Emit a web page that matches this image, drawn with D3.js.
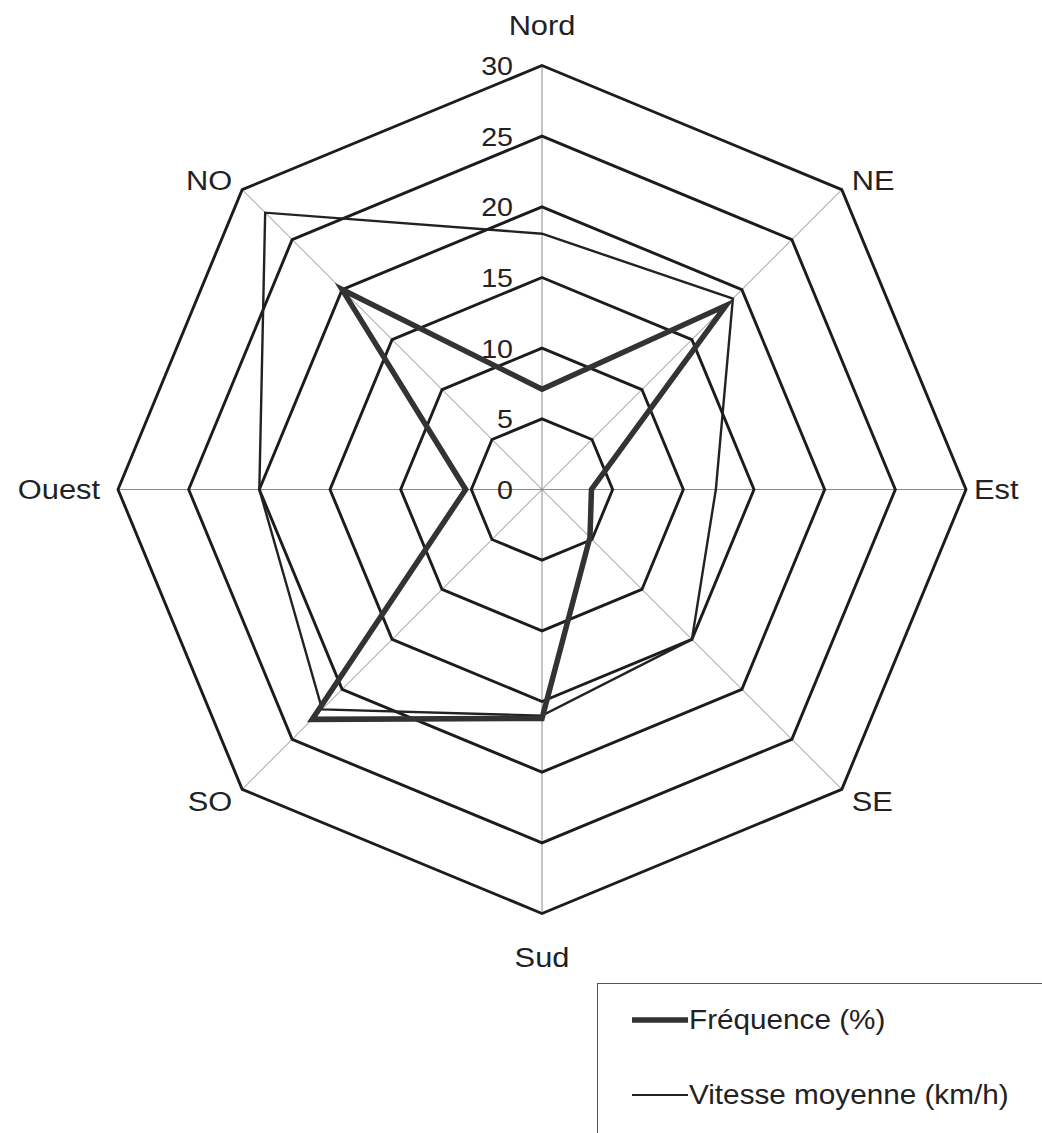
<!DOCTYPE html>
<html>
<head>
<meta charset="utf-8">
<script src="https://cdn.jsdelivr.net/npm/d3@7"></script>
<style>
  html, body { margin: 0; padding: 0; background: #fff; }
  svg { display: block; }
  text { font-family: "Liberation Sans", Arial, sans-serif; fill: #222; }
</style>
</head>
<body>
<div id="chart"></div>
<script>
// directions, clockwise from the top
const directions = ["Nord", "NE", "Est", "SE", "Sud", "SO", "Ouest", "NO"];
// series
const frequence = [7.1, 18.4, 3.5, 4.8, 16.2, 23.0, 5.4, 20.0];
const vitesse = [18.1, 19.1, 12.3, 15.0, 16.0, 22.0, 20.0, 27.7];
const ticks = [0, 5, 10, 15, 20, 25, 30];

const seriesNames = ["Fréquence (%)", "Vitesse moyenne (km/h)"];

const width = 1042;
const height = 1133;
const cx = 542, cy = 489.5;
const R = 424;
const stretch = 1.1; // the scanned text is a bit wider than Arial

const svg = d3.select("#chart").append("svg")
  .attr("width", width)
  .attr("height", height)
  .attr("viewBox", [0, 0, width, height]);

const r = d3.scaleLinear().domain([0, 30]).range([0, R]);
const angle = d3.scalePoint().domain(directions).range([0, 2 * Math.PI * 7 / 8]);

const g = svg.append("g").attr("transform", `translate(${cx},${cy})`);

// spokes
g.append("g")
  .attr("stroke", "#8a8a8a")
  .attr("stroke-width", 1)
  .selectAll("line")
  .data(directions)
  .join("line")
  .attr("x1", 0).attr("y1", 0)
  .attr("x2", d => r(30) * Math.sin(angle(d)))
  .attr("y2", d => -r(30) * Math.cos(angle(d)));

// octagon rings
const ring = d3.lineRadial()
  .angle(d => angle(d))
  .curve(d3.curveLinearClosed);

g.append("g")
  .attr("fill", "none")
  .attr("stroke", "#1c1c1c")
  .attr("stroke-width", 2.9)
  .attr("stroke-linejoin", "miter")
  .selectAll("path")
  .data(ticks.filter(t => t > 0))
  .join("path")
  .attr("d", t => ring.radius(() => r(t))(directions));

// tick labels along the north spoke
g.append("g")
  .attr("font-size", 26)
  .attr("text-anchor", "end")
  .selectAll("text")
  .data(ticks)
  .join("text")
  .attr("transform", t => `translate(-29,${-r(t)}) scale(${stretch},1)`)
  .attr("dy", "0.36em")
  .text(t => t);

// series
const seriesLine = d3.lineRadial()
  .angle((d, i) => angle(directions[i]))
  .radius(d => r(d))
  .curve(d3.curveLinearClosed);

g.append("path")
  .datum(vitesse)
  .attr("fill", "none")
  .attr("stroke", "#222")
  .attr("stroke-width", 2.4)
  .attr("stroke-linejoin", "miter")
  .attr("d", seriesLine);

g.append("path")
  .datum(frequence)
  .attr("fill", "none")
  .attr("stroke", "#333")
  .attr("stroke-width", 5.5)
  .attr("stroke-linejoin", "miter")
  .attr("d", seriesLine);

// direction labels
function labelPos(d) {
  const s = Math.sin(angle(d)), c = Math.cos(angle(d));
  let x = (R + 14) * s;
  if (s > 0.9) x = R + 8;
  else if (s < -0.9) x = -(R + 18);
  let y = -(R + 14) * c;
  if (c > 0.9) y -= 26;
  else if (c < -0.9) y += 30;
  else if (c < -0.1) y += 2;
  return [x, y];
}

g.append("g")
  .attr("font-size", 28)
  .selectAll("text")
  .data(directions)
  .join("text")
  .attr("transform", d => `translate(${labelPos(d)}) scale(${stretch},1)`)
  .attr("dy", "0.35em")
  .attr("text-anchor", d => {
    const s = Math.sin(angle(d));
    return s > 0.1 ? "start" : s < -0.1 ? "end" : "middle";
  })
  .text(d => d);

// legend
const legend = svg.append("g");
legend.append("rect")
  .attr("x", 597.5).attr("y", 983.5)
  .attr("width", 500).attr("height", 200)
  .attr("fill", "#fff")
  .attr("stroke", "#555")
  .attr("stroke-width", 1);

const legendRows = [
  { name: seriesNames[0], width: 5.5, color: "#333", y: 1020 },
  { name: seriesNames[1], width: 2, color: "#222", y: 1095 }
];

const row = legend.selectAll("g.row")
  .data(legendRows)
  .join("g")
  .attr("class", "row")
  .attr("transform", d => `translate(0,${d.y})`);

row.append("line")
  .attr("x1", 632).attr("x2", 688)
  .attr("stroke", d => d.color)
  .attr("stroke-width", d => d.width);

row.append("text")
  .attr("transform", `translate(689,0) scale(${stretch},1)`)
  .attr("dy", "0.35em")
  .attr("font-size", 27)
  .text(d => d.name);
</script>
</body>
</html>
